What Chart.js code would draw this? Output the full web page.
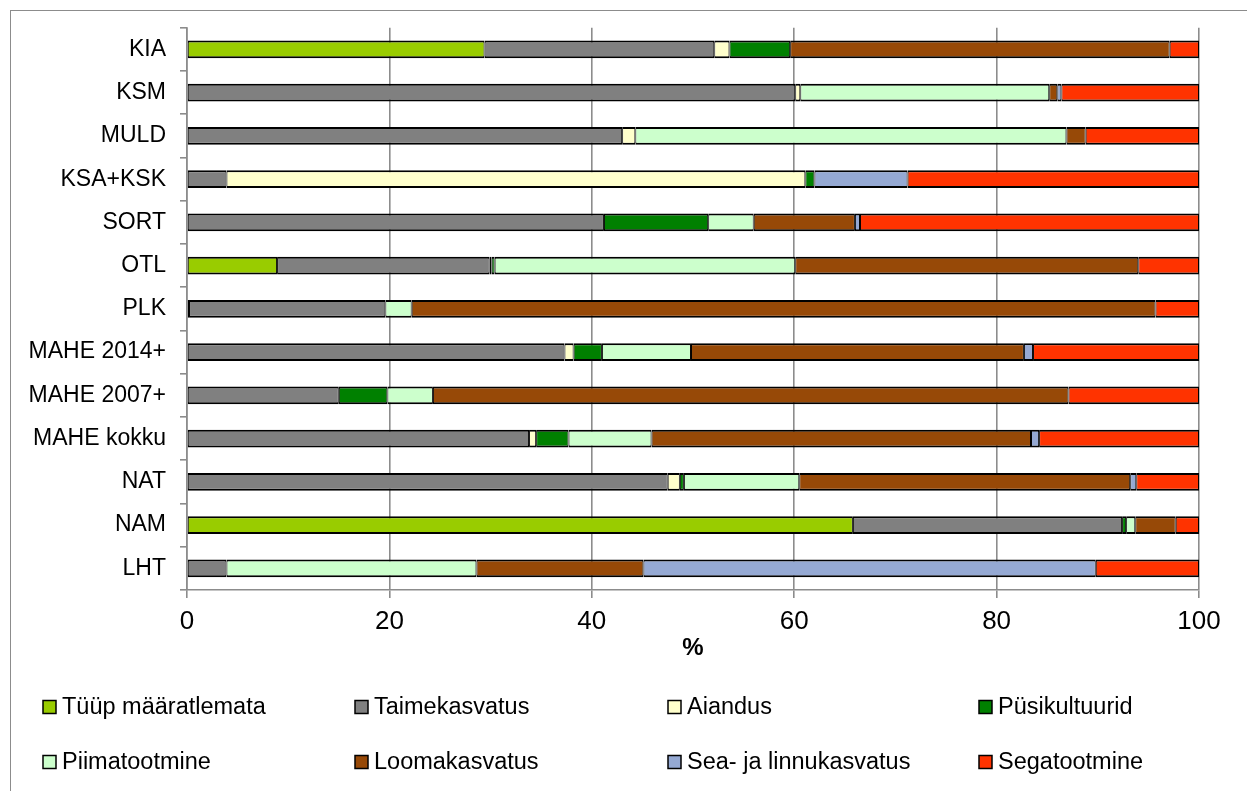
<!DOCTYPE html>
<html>
<head>
<meta charset="utf-8">
<script src="https://cdn.jsdelivr.net/npm/chart.js@4"></script>
<style>
  html, body { margin: 0; padding: 0; background: #fff; }
  canvas { display: block; }
</style>
</head>
<body>
<canvas id="chart" width="1247" height="791"></canvas>
<script>
const categories = ["KIA", "KSM", "MULD", "KSA+KSK", "SORT", "OTL", "PLK", "MAHE 2014+", "MAHE 2007+", "MAHE kokku", "NAT", "NAM", "LHT"];

const tyypMaaratlemata = [29.4, 0, 0, 0, 0, 8.9, 0.2, 0, 0, 0, 0, 65.8, 0];
const taimekasvatus = [22.7, 60.1, 43.0, 3.9, 41.2, 21.0, 19.4, 37.3, 15.0, 33.8, 47.5, 26.6, 3.9];
const aiandus = [1.5, 0.5, 1.3, 57.2, 0, 0.2, 0, 0.9, 0, 0.7, 1.2, 0, 0];
const pysikultuurid = [6.0, 0, 0, 0.9, 10.3, 0.3, 0, 2.8, 4.8, 3.2, 0.4, 0.4, 0];
const piimatootmine = [0, 24.6, 42.6, 0, 4.5, 29.7, 2.6, 8.8, 4.5, 8.2, 11.4, 0.9, 24.7];
const loomakasvatus = [37.5, 0.8, 1.9, 0, 10.0, 33.9, 73.5, 32.9, 62.8, 37.5, 32.7, 4.0, 16.5];
const seaJaLinnukasvatus = [0, 0.4, 0, 9.2, 0.5, 0, 0, 0.9, 0, 0.8, 0.6, 0, 44.7];
const segatootmine = [2.9, 13.6, 11.2, 28.8, 33.5, 6.0, 4.3, 16.4, 12.9, 15.8, 6.2, 2.3, 10.2];

const seriesNames = ["Tüüp määratlemata", "Taimekasvatus", "Aiandus", "Püsikultuurid", "Piimatootmine", "Loomakasvatus", "Sea- ja linnukasvatus", "Segatootmine"];
const seriesValues = [tyypMaaratlemata, taimekasvatus, aiandus, pysikultuurid, piimatootmine, loomakasvatus, seaJaLinnukasvatus, segatootmine];
const seriesColors = ["#99cc00", "#808080", "#ffffcc", "#008000", "#ccffcc", "#974907", "#95a9d3", "#ff3300"];

const xTicks = [0, 20, 40, 60, 80, 100];

const FONT = "'Liberation Sans', Arial, sans-serif";
const gridGray = "#8c8c8c";

// legend laid out in a fixed 4 x 2 grid like the original
const gridLegend = {
  id: "gridLegend",
  beforeDraw(chart) {
    const ctx = chart.ctx;
    ctx.save();
    ctx.strokeStyle = gridGray;
    ctx.lineWidth = 1;
    ctx.strokeRect(10.5, 10.5, 1400, 1000);
    ctx.restore();
  },
  afterDraw(chart) {
    const ctx = chart.ctx;
    const cols = [43, 355, 668, 979];
    const rows = [707, 762];
    ctx.save();
    ctx.font = "23.5px " + FONT;
    ctx.textBaseline = "middle";
    chart.data.datasets.forEach((ds, i) => {
      const x = cols[i % 4];
      const y = rows[Math.floor(i / 4)];
      ctx.fillStyle = ds.backgroundColor;
      ctx.fillRect(x, y - 6.5, 13, 13);
      ctx.strokeStyle = "#000";
      ctx.lineWidth = 1.5;
      ctx.strokeRect(x, y - 6.5, 13, 13);
      ctx.fillStyle = "#000";
      ctx.fillText(ds.label, x + 19, y + 1);
    });
    ctx.restore();
  }
};

new Chart(document.getElementById("chart"), {
  type: "bar",
  data: {
    labels: categories,
    datasets: seriesNames.map((name, i) => ({
      label: name,
      data: seriesValues[i],
      backgroundColor: seriesColors[i],
      borderColor: "#000",
      borderWidth: { top: 2, bottom: 2, left: 1, right: 1 },
      borderSkipped: false,
      categoryPercentage: 0.5,
      barPercentage: 0.82
    }))
  },
  options: {
    indexAxis: "y",
    responsive: false,
    animation: false,
    devicePixelRatio: 1,
    layout: {
      padding: { top: 23, right: 48, bottom: 128, left: 0 }
    },
    plugins: {
      legend: { display: false },
      tooltip: { enabled: false }
    },
    scales: {
      x: {
        stacked: true,
        min: 0,
        max: 100,
        afterBuildTicks(scale) {
          scale.ticks = xTicks.map(v => ({ value: v }));
        },
        afterFit(scale) {
          scale.height = 73;
        },
        grid: {
          color: gridGray,
          lineWidth: 1.6,
          tickLength: 8,
          drawTicks: true
        },
        border: { color: gridGray, width: 1.6 },
        ticks: {
          color: "#000",
          padding: 8,
          font: { family: FONT, size: 26 }
        },
        title: {
          display: true,
          text: "%",
          color: "#000",
          padding: 0,
          font: { family: FONT, size: 24, weight: "bold" }
        }
      },
      y: {
        stacked: true,
        afterFit(scale) {
          scale.width = 187;
        },
        grid: {
          drawOnChartArea: false,
          drawTicks: true,
          tickLength: 7,
          color: gridGray,
          lineWidth: 1.6
        },
        border: { color: gridGray, width: 1.6 },
        ticks: {
          color: "#000",
          padding: 14,
          font: { family: FONT, size: 23 }
        }
      }
    }
  },
  plugins: [gridLegend]
});
</script>
</body>
</html>
